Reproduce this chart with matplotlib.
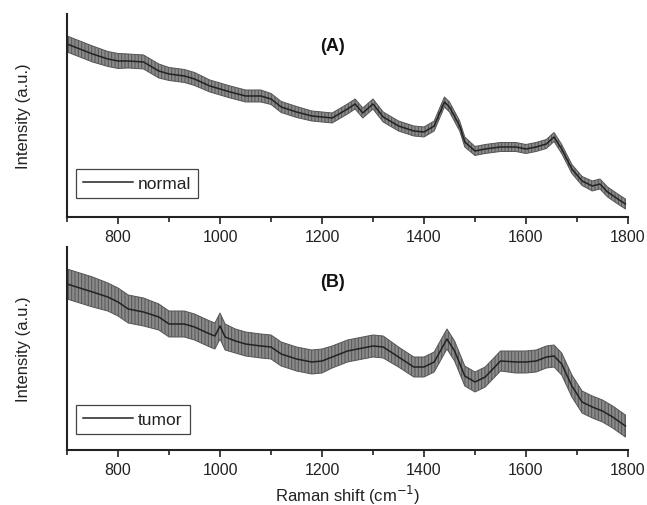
import matplotlib
matplotlib.use("Agg")
import matplotlib.pyplot as plt
import numpy as np

# Raman shift positions (cm^-1)
shift_normal = [700, 750, 780, 800, 820, 850, 880, 900, 930, 950, 980, 1000, 1020,
                1050, 1080, 1100, 1120, 1150, 1180, 1200, 1220, 1250, 1265, 1280,
                1300, 1320, 1350, 1380, 1400, 1420, 1440, 1450, 1470, 1480, 1500,
                1520, 1550, 1580, 1600, 1620, 1640, 1655, 1670, 1690, 1710, 1730,
                1745, 1760, 1780, 1795]
intensity_normal = [173, 163, 158, 156, 156, 155, 146, 143, 141, 138, 131, 128, 125,
                    121, 121, 118, 110, 105, 101, 100, 99, 108, 113, 104,
                    113, 100, 91, 86, 85, 91, 115, 110, 91, 75, 66,
                    68, 70, 70, 68, 70, 73, 80, 68, 48, 36, 31,
                    33, 25, 18, 13]
std_normal = [8, 8, 7.5, 7.5, 7, 7, 7, 6.5, 6.5, 6.5, 6, 6, 6,
              6, 6, 5.5, 5.5, 5.5, 5, 5, 5, 5, 5, 5,
              5, 5, 5, 5, 5, 5, 5, 5, 5, 5, 4.5,
              4.5, 4.5, 4.5, 4.5, 4.5, 4.5, 4.5, 4.5, 4.5, 4.5, 5,
              5, 5, 5, 5]

shift_tumor = [700, 750, 780, 800, 820, 850, 880, 900, 930, 950, 980, 990, 1000,
               1010, 1030, 1050, 1080, 1100, 1120, 1150, 1180, 1200, 1220, 1250,
               1270, 1300, 1320, 1350, 1380, 1400, 1420, 1445, 1460, 1480, 1500,
               1520, 1550, 1580, 1600, 1620, 1640, 1655, 1670, 1690, 1710, 1730,
               1750, 1770, 1795]
intensity_tumor = [166, 158, 153, 148, 141, 138, 133, 126, 126, 123, 116, 114, 124,
                   113, 109, 106, 104, 103, 96, 91, 88, 89, 93, 99,
                   101, 104, 103, 93, 83, 83, 88, 111, 99, 74, 68,
                   73, 89, 88, 88, 89, 93, 94, 86, 64, 48, 43,
                   39, 33, 24]
std_tumor = [15, 15, 14, 14, 14, 14, 13, 13, 13, 13, 13, 13, 13,
             13, 12, 12, 12, 12, 12, 12, 12, 12, 11, 11,
             11, 11, 11, 10, 10, 10, 10, 10, 10, 10, 10,
             10, 10, 11, 11, 11, 11, 11, 11, 11, 11, 11,
             11, 11, 11]

plt.rcParams["font.family"] = ["Liberation Sans", "DejaVu Sans"]
plt.rcParams["hatch.linewidth"] = 0.7

fig = plt.figure(figsize=(6.47, 5.06), dpi=100)
ax_a = fig.add_axes([0.1036, 0.5692, 0.867, 0.4012])
ax_b = fig.add_axes([0.1036, 0.1087, 0.867, 0.4012])

panels = [
    (ax_a, shift_normal, intensity_normal, std_normal, "normal", "(A)", 0.847, 0.07),
    (ax_b, shift_tumor, intensity_tumor, std_tumor, "tumor", "(B)", 0.83, 0.055),
]

for ax, x, y, err, name, tag, tag_y, leg_y in panels:
    x = np.asarray(x, dtype=float)
    y = np.asarray(y, dtype=float)
    err = np.asarray(err, dtype=float)
    ax.fill_between(x, y - err, y + err, facecolor="#8a8a8a", edgecolor="#555555",
                    hatch="|||||", linewidth=0.7, zorder=1)
    ax.plot(x, y, color="#222222", linewidth=1.1, label=name, zorder=2)

    ax.set_xlim(700, 1800)
    ax.set_ylim(0, 203)
    ax.set_xticks([800, 1000, 1200, 1400, 1600, 1800])
    ax.set_xticks([700, 900, 1100, 1300, 1500, 1700], minor=True)
    ax.set_yticks([])
    ax.tick_params(axis="x", which="major", direction="out", length=5, width=1.2,
                   labelsize=11.5, pad=4, color="#222222", labelcolor="#222222")
    ax.tick_params(axis="x", which="minor", direction="out", length=3.5, width=1.2,
                   color="#222222")
    for side in ("top", "right"):
        ax.spines[side].set_visible(False)
    for side in ("left", "bottom"):
        ax.spines[side].set_linewidth(1.5)
        ax.spines[side].set_color("#222222")
    ax.set_ylabel("Intensity (a.u.)", fontsize=12, color="#222222", labelpad=26)
    ax.text(0.474, tag_y, tag, transform=ax.transAxes, fontsize=13, fontweight="bold",
            ha="center", va="center", color="#111111")
    leg = ax.legend(loc="lower left", bbox_to_anchor=(0.006, leg_y), fontsize=12.5,
                    fancybox=False, edgecolor="#444444", handlelength=2.9,
                    handletextpad=0.3, borderpad=0.4, borderaxespad=0.3,
                    framealpha=1.0)
    leg.get_frame().set_linewidth(0.9)
    for t in leg.get_texts():
        t.set_color("#222222")

ax_b.set_xlabel("Raman shift (cm$^{-1}$)", fontsize=12, color="#222222", labelpad=4)

fig.savefig("out.png", dpi=100)
